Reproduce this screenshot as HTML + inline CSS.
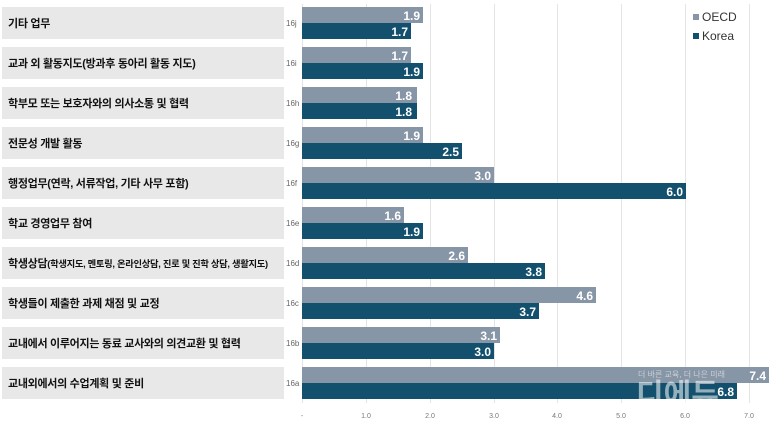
<!DOCTYPE html>
<html><head><meta charset="utf-8"><style>
body{margin:0;background:#fff;}
svg{display:block;font-family:"Liberation Sans","Noto Sans CJK KR",sans-serif;}
</style></head><body>
<svg width="780" height="425" xmlns="http://www.w3.org/2000/svg">
<g stroke="#e4e4e4" stroke-width="1">
<line x1="302.5" y1="4" x2="302.5" y2="403"/>
<line x1="366.5" y1="4" x2="366.5" y2="403"/>
<line x1="430.5" y1="4" x2="430.5" y2="403"/>
<line x1="494.5" y1="4" x2="494.5" y2="403"/>
<line x1="557.5" y1="4" x2="557.5" y2="403"/>
<line x1="621.5" y1="4" x2="621.5" y2="403"/>
<line x1="685.5" y1="4" x2="685.5" y2="403"/>
<line x1="749.5" y1="4" x2="749.5" y2="403"/>
</g>
<g fill="#e8e8e8">
<rect x="2" y="7" width="282" height="32"/><rect x="2" y="47" width="282" height="32"/>
<rect x="2" y="87" width="282" height="32"/><rect x="2" y="127" width="282" height="32"/>
<rect x="2" y="167" width="282" height="32"/><rect x="2" y="207" width="282" height="32"/>
<rect x="2" y="247" width="282" height="32"/><rect x="2" y="287" width="282" height="32"/>
<rect x="2" y="327" width="282" height="32"/><rect x="2" y="367" width="282" height="32"/>
</g>
<g font-size="11" font-weight="bold" fill="#111" letter-spacing="-0.3">
<text x="8" y="27">기타 업무</text>
<text x="8" y="67">교과 외 활동지도(방과후 동아리 활동 지도)</text>
<text x="8" y="107">학부모 또는 보호자와의 의사소통 및 협력</text>
<text x="8" y="147">전문성 개발 활동</text>
<text x="8" y="187">행정업무(연락, 서류작업, 기타 사무 포함)</text>
<text x="8" y="227">학교 경영업무 참여</text>
<text x="8" y="267">학생상담<tspan font-size="9.3">(학생지도, 멘토링, 온라인상담, 진로 및 진학 상담, 생활지도)</tspan></text>
<text x="8" y="307">학생들이 제출한 과제 채점 및 교정</text>
<text x="8" y="347">교내에서 이루어지는 동료 교사와의 의견교환 및 협력</text>
<text x="8" y="387">교내외에서의 수업계획 및 준비</text>
</g>
<g font-size="8" fill="#666">
<text x="286" y="26">16j</text><text x="286" y="66">16i</text><text x="286" y="106">16h</text>
<text x="286" y="146">16g</text><text x="286" y="186">16f</text><text x="286" y="226">16e</text>
<text x="286" y="266">16d</text><text x="286" y="306">16c</text><text x="286" y="346">16b</text>
<text x="286" y="386">16a</text>
</g>
<g fill="#8796a6">
<rect x="302" y="7" width="121" height="16"/><rect x="302" y="47" width="109" height="16"/>
<rect x="302" y="87" width="115" height="16"/><rect x="302" y="127" width="121" height="16"/>
<rect x="302" y="167" width="192" height="16"/><rect x="302" y="207" width="102" height="16"/>
<rect x="302" y="247" width="166" height="16"/><rect x="302" y="287" width="294" height="16"/>
<rect x="302" y="327" width="198" height="16"/><rect x="302" y="367" width="467" height="16"/>
</g>
<g fill="#13506e">
<rect x="302" y="23" width="109" height="16"/><rect x="302" y="63" width="121" height="16"/>
<rect x="302" y="103" width="115" height="16"/><rect x="302" y="143" width="160" height="16"/>
<rect x="302" y="183" width="384" height="16"/><rect x="302" y="223" width="121" height="16"/>
<rect x="302" y="263" width="243" height="16"/><rect x="302" y="303" width="237" height="16"/>
<rect x="302" y="343" width="192" height="16"/><rect x="302" y="383" width="435" height="16"/>
</g>
<g font-size="12" font-weight="bold" fill="#fff" text-anchor="end">
<text x="420" y="20">1.9</text><text x="408" y="36">1.7</text>
<text x="408" y="60">1.7</text><text x="420" y="76">1.9</text>
<text x="412" y="100">1.8</text><text x="412" y="116">1.8</text>
<text x="420" y="140">1.9</text><text x="459" y="156">2.5</text>
<text x="491" y="180">3.0</text><text x="683" y="196">6.0</text>
<text x="401" y="220">1.6</text><text x="420" y="236">1.9</text>
<text x="465" y="260">2.6</text><text x="542" y="276">3.8</text>
<text x="593" y="300">4.6</text><text x="536" y="316">3.7</text>
<text x="497" y="340">3.1</text><text x="491" y="356">3.0</text>
<text x="766" y="380">7.4</text><text x="734" y="396">6.8</text>
</g>
<g font-size="7" fill="#777" text-anchor="middle">
<text x="302" y="418">-</text><text x="366" y="418">1.0</text><text x="430" y="418">2.0</text>
<text x="494" y="418">3.0</text><text x="557" y="418">4.0</text><text x="621" y="418">5.0</text>
<text x="685" y="418">6.0</text><text x="749" y="418">7.0</text>
</g>
<rect x="693" y="14" width="6" height="6" fill="#8796a6"/>
<rect x="693" y="33" width="6" height="6" fill="#13506e"/>
<g font-size="12" fill="#333"><text x="702" y="21">OECD</text><text x="702" y="40">Korea</text></g>
<g fill="#fff" opacity="0.55" font-weight="bold">
<text x="638" y="377" font-size="8" font-weight="normal">더 바른 교육, 더 나은 미래</text>
<text x="636" y="405" font-size="30">디에듀</text>
</g>
</svg>
</body></html>
